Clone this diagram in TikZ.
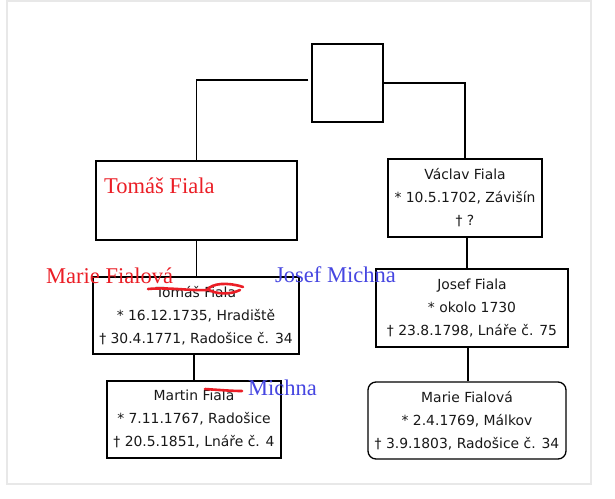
\documentclass[tikz,border=0pt]{standalone}
\usepackage{fontspec}
\setmainfont{DejaVu Sans}
\newfontfamily\serifhand{Liberation Serif}
\definecolor{annred}{RGB}{235,30,38}
\definecolor{annblue}{RGB}{70,70,225}
\definecolor{framegray}{RGB}{232,232,232}
\begin{document}
\begin{tikzpicture}[x=1pt,y=-1pt,
  person/.style={draw=black,line width=1.3pt,inner sep=0pt,align=center,
    font=\fontsize{13.9}{23}\selectfont,text=black!90},
  link/.style={draw=black,line width=1.3pt},
  hand/.style={font=\serifhand\fontsize{22.5}{24}\selectfont,anchor=base west,inner sep=0pt},
  strike/.style={draw=annred,line width=2.6pt,line cap=round,line join=round}]
\useasboundingbox (0,0) rectangle (615,498);
\fill[white] (0,0) rectangle (615,498);
\draw[framegray,line width=1.5pt] (7,1) rectangle (591,484);

\node[person,minimum width=71pt,minimum height=78pt] (top) at (347.5,83) {};
\node[person,minimum width=201pt,minimum height=79pt] (tomas1) at (196.5,200.5) {};
\node[person,minimum width=206pt,minimum height=77pt] (tomas2) at (196,315.5)
  {Tomáš Fiala\\* 16.12.1735, Hradiště\\† 30.4.1771, Radošice č. 34};
\node[person,minimum width=174pt,minimum height=77pt] (martin) at (194,419.5)
  {Martin Fiala\\* 7.11.1767, Radošice\\† 20.5.1851, Lnáře č. 4};
\node[person,minimum width=154pt,minimum height=78pt] (vaclav) at (465,198)
  {Václav Fiala\\* 10.5.1702, Závišín\\† ?};
\node[person,minimum width=192pt,minimum height=78pt] (josef) at (472,308)
  {Josef Fiala\\* okolo 1730\\† 23.8.1798, Lnáře č. 75};
\node[person,rounded corners=8pt,minimum width=198pt,minimum height=77pt] (marie) at (467,420.5)
  {Marie Fialová\\* 2.4.1769, Málkov\\† 3.9.1803, Radošice č. 34};

\draw[link] ([shift={(-3,-3)}]top.west) -| (tomas1.north);
\draw[link] (top.east) -| (vaclav.north);
\draw[link] (tomas1.south) -- (tomas1.south |- tomas2.north);
\draw[link] (martin.north |- tomas2.south) -- (martin.north);
\draw[link] ([xshift=2pt]vaclav.south) -- ([xshift=2pt]vaclav.south |- josef.north);
\draw[link] ([xshift=1pt]marie.north |- josef.south) -- ([xshift=1pt]marie.north);

\node[hand,text=annred] (lblTomas) at (104,193) {Tomáš Fiala};
\node[hand,text=annred] (lblMarie) at (46,283) {Marie Fialová};
\node[hand,text=annblue] (lblJosef) at (275,282) {Josef Michna};
\node[hand,text=annblue] (lblMichna) at (248,395) {Michna};

\draw[strike] (148,289) .. controls (170,287) and (190,291) .. (207,290)
  .. controls (212,283) and (228,282) .. (243,287);
\draw[strike] (209,290) .. controls (216,294) and (230,295) .. (240,290);
\draw[strike] (205,389) .. controls (220,390) and (232,391) .. (242,391);
\end{tikzpicture}
\end{document}
